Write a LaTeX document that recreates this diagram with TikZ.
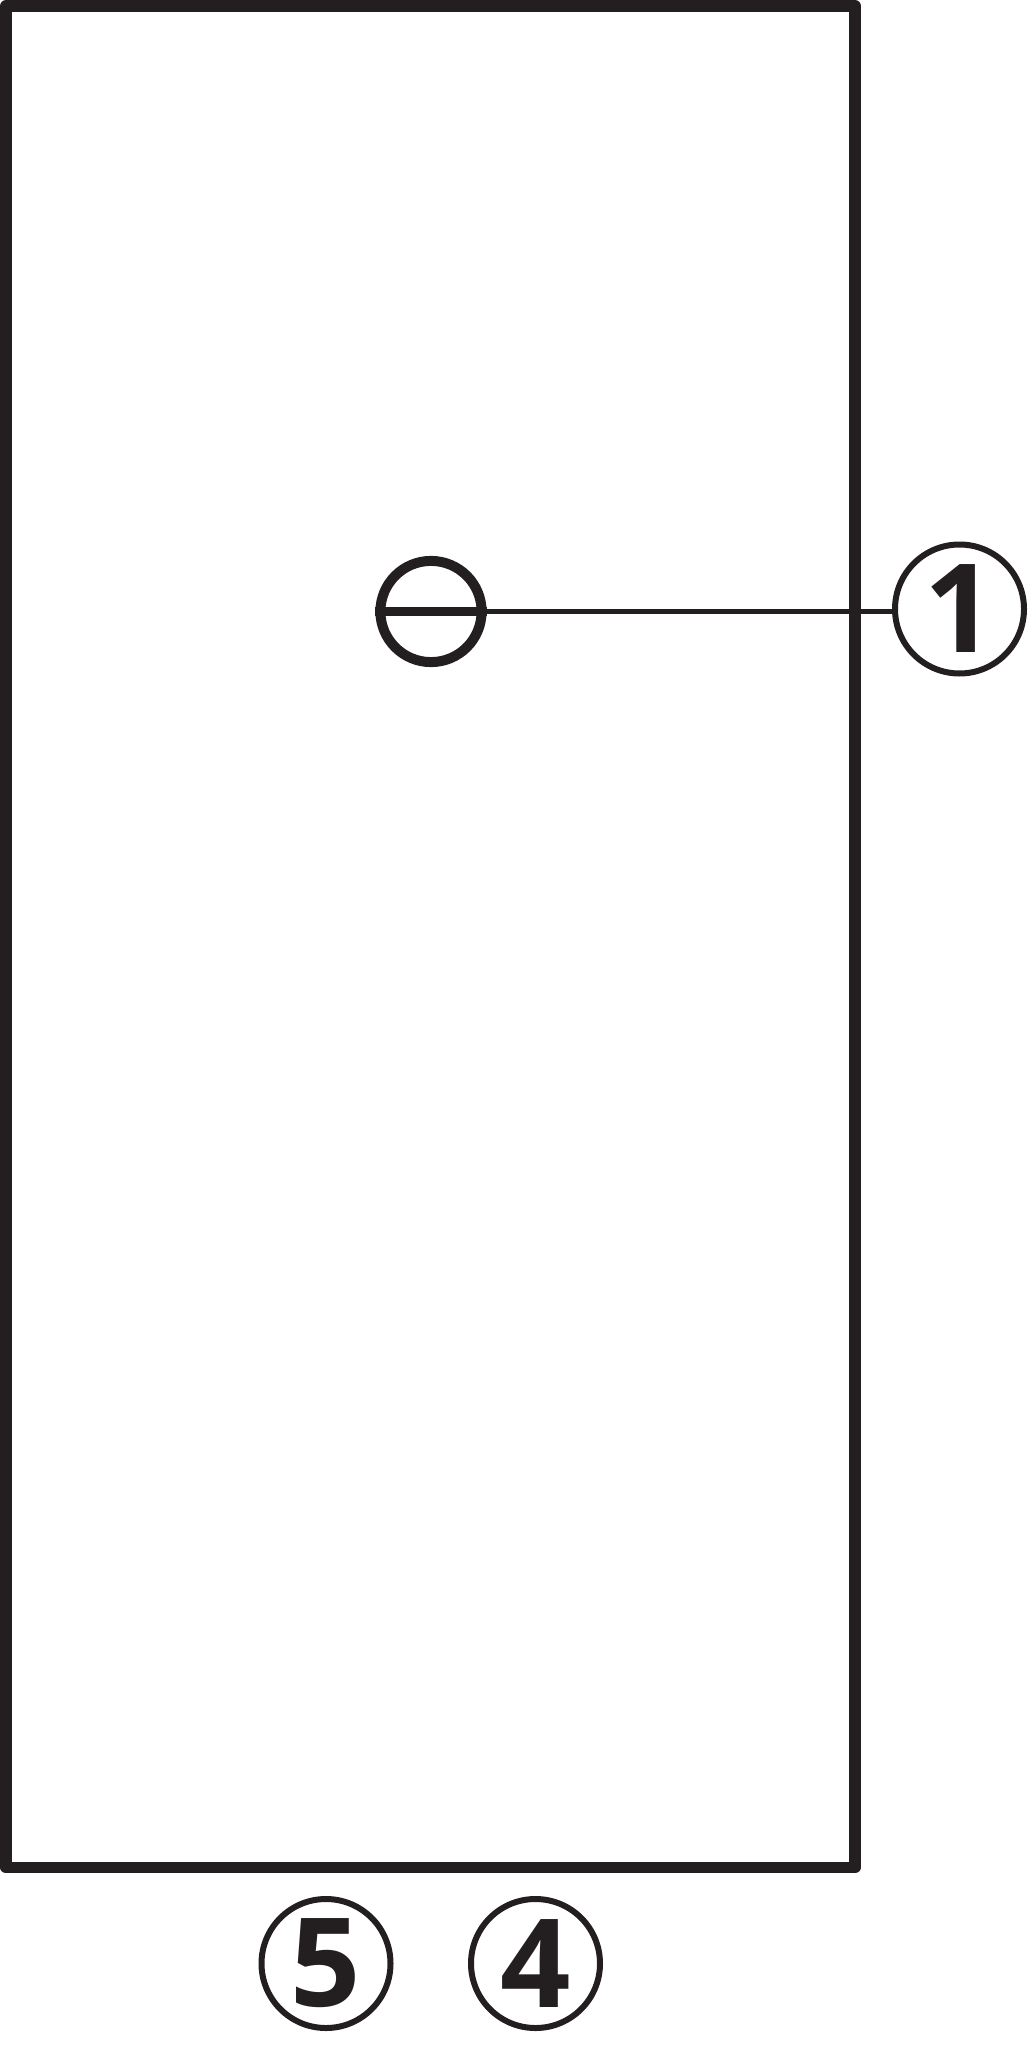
\documentclass[tikz,border=0pt]{standalone}
\usepackage{fontspec}
\newfontfamily\numfont{Open Sans}
\definecolor{ink}{HTML}{231F20}
\begin{document}
\begin{tikzpicture}[x=0.5pt,y=-0.5pt,
  frame/.style={draw=ink,line width=5.8pt,line join=round},
  numcirc/.style={circle,draw=ink,line width=3pt,minimum size=64.5pt,inner sep=0pt,text=ink,
     font=\numfont\bfseries\fontsize{61.6}{70}\selectfont},
  thetacirc/.style={circle,draw=ink,line width=5pt,minimum size=50.6pt,inner sep=0pt},
  leader/.style={draw=ink,line width=2.5pt}]
\useasboundingbox (0,0) rectangle (1035,2048);
\draw[frame] (6,6) rectangle (855,1867.5);
\node[thetacirc] (th) at (431,611.5) {};
\draw[ink,line width=4.8pt] (th.west) -- (th.east);
\node[numcirc] (c1) at (959.5,609) {1};
\node[numcirc] (c5) at (326,1963.5) {5};
\node[numcirc] (c4) at (535.5,1963.5) {4};
\draw[leader] (th.east) -- (th.east -| c1.west);
\end{tikzpicture}
\end{document}
